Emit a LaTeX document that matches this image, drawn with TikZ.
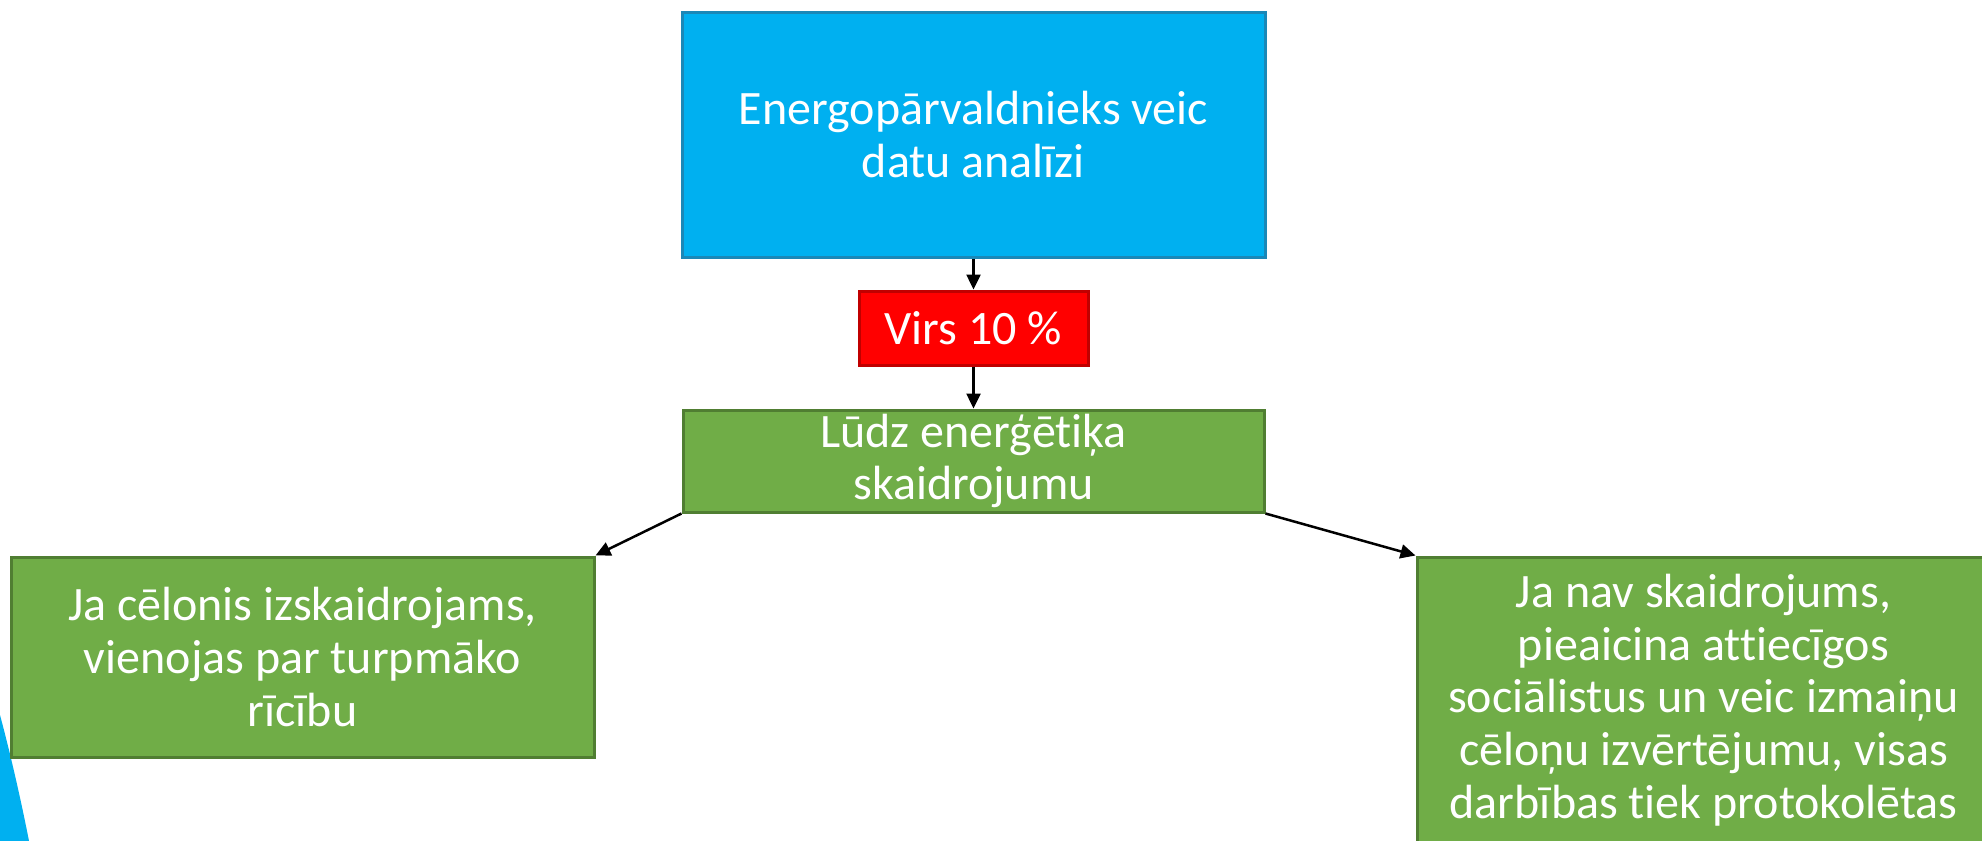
\documentclass[tikz,border=0pt]{standalone}
\usepackage{fontspec}
\setmainfont{Carlito}[Ligatures=NoCommon]
\usetikzlibrary{arrows.meta}
\definecolor{cblue}{HTML}{00B0F0}
\definecolor{cblueline}{HTML}{1A88B8}
\definecolor{cred}{HTML}{FF0000}
\definecolor{credline}{HTML}{C00000}
\definecolor{cgreen}{HTML}{70AD47}
\definecolor{cgreenline}{HTML}{507E32}
\tikzset{
  box/.style={draw, line width=1.5pt, text=white, align=center, inner sep=0pt,
    font=\fontsize{24pt}{26.4pt}\selectfont},
  bluebox/.style={box, fill=cblue, draw=cblueline},
  redbox/.style={box, fill=cred, draw=credline},
  greenbox/.style={box, fill=cgreen, draw=cgreenline},
  conn/.style={line width=1.25pt, -{Triangle[length=7.5pt,width=7pt]}}
}
\begin{document}
\begin{tikzpicture}[x=0.5pt,y=-0.5pt]
\useasboundingbox (0,0) rectangle (1982,841);
\fill[cblue] (0,715) .. controls (10,752) and (21,800) .. (29,841) -- (0,841) -- cycle;
\node[bluebox, minimum width=291.5pt, minimum height=122.5pt] (a) at (973.5,134.5)
  {Energopārvaldnieks veic\\datu analīzi};
\node[redbox, minimum width=114.5pt, minimum height=37pt] (b) at (973.5,328)
  {Virs 10 \%};
\node[greenbox, minimum width=290.5pt, minimum height=51pt] (c) at (973.5,461)
  {Lūdz enerģētiķa\\skaidrojumu};
\node[greenbox, minimum width=291.5pt, minimum height=100pt] (d) at (302.5,657)
  {Ja cēlonis izskaidrojams,\\vienojas par turpmāko\\rīcību};
\node[greenbox, minimum width=286.5pt, minimum height=143pt] (e) at (1703.5,700)
  {Ja nav skaidrojums,\\pieaicina attiecīgos\\sociālistus un veic izmaiņu\\cēloņu izvērtējumu, visas\\darbības tiek protokolētas};
\draw[conn] (a) -- (b);
\draw[conn] (b) -- (c);
\draw[conn] (c.south west) -- (d.north east);
\draw[conn] (c.south east) -- (e.north west);
\end{tikzpicture}
\end{document}
